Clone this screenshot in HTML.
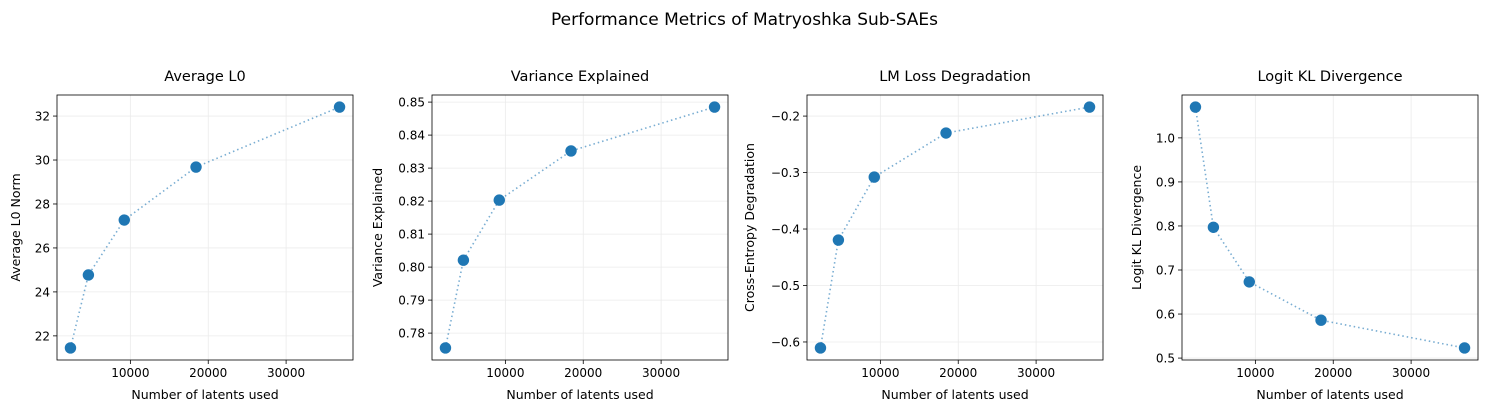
<!DOCTYPE html>
<html><head><meta charset="utf-8"><style>
body{margin:0;background:#fff;font-family:"Liberation Sans","DejaVu Sans",sans-serif}
svg text{font-family:"DejaVu Sans","Liberation Sans",sans-serif;fill:#000}
</style></head><body>
<svg id="c" width="1489" height="413">
<text x="744.5" y="25" text-anchor="middle" font-size="17">Performance Metrics of Matryoshka Sub-SAEs</text>
</svg>
<script>
const latents = [2304, 4608, 9216, 18432, 36864];
const l0Values = [21.45, 24.77, 27.27, 29.68, 32.41];
const varValues = [0.7755, 0.8021, 0.8203, 0.8352, 0.8485];
const lossValues = [-0.6106, -0.4195, -0.308, -0.230, -0.184];
const klValues = [1.070, 0.797, 0.673, 0.586, 0.523];
const xTicks = [10000, 20000, 30000];
const l0Ticks = [22, 24, 26, 28, 30, 32];
const varTicks = [0.78, 0.79, 0.80, 0.81, 0.82, 0.83, 0.84, 0.85];
const lossTicks = [-0.6, -0.5, -0.4, -0.3, -0.2];
const klTicks = [0.5, 0.6, 0.7, 0.8, 0.9, 1.0];
const titles = ["Average L0", "Variance Explained", "LM Loss Degradation", "Logit KL Divergence"];
const yLabels = ["Average L0 Norm", "Variance Explained", "Cross-Entropy Degradation", "Logit KL Divergence"];
const series = [l0Values, varValues, lossValues, klValues];
const ticks = [l0Ticks, varTicks, lossTicks, klTicks];
const dec = [0, 2, 1, 1];
const lefts = [57, 432, 807, 1182];
const yOff = [37, 50, 53, 41];
const W = 296, TOP = 95, BOT = 360;
const NS = "http://www.w3.org/2000/svg";
const svg = document.getElementById('c');
function mk(tag, attrs, parent) {
  const e = document.createElementNS(NS, tag);
  for (const k in attrs) e.setAttribute(k, attrs[k]);
  (parent || svg).appendChild(e);
  return e;
}
const xmin = Math.min(...latents), xmax = Math.max(...latents);
const xm = (xmax - xmin) * 0.05;
for (let p = 0; p < 4; p++) {
  const L = lefts[p];
  const g = mk('g', {});
  
  
  const xs = v => L + (v - (xmin - xm)) / ((xmax + xm) - (xmin - xm)) * W;
  const d = series[p];
  const ymn = Math.min(...d), ymx = Math.max(...d), m = (ymx - ymn) * 0.05;
  const ys = v => BOT - (v - (ymn - m)) / ((ymx + m) - (ymn - m)) * (BOT - TOP);
  xTicks.forEach(t => {
    const x = xs(t);
    mk('line', {x1: x, x2: x, y1: TOP, y2: BOT, stroke: '#ebebeb', 'stroke-width': 0.8}, g);
    mk('line', {x1: x, x2: x, y1: BOT, y2: BOT + 4, stroke: '#000', 'stroke-width': 0.8}, g);
    const tx = mk('text', {x: x, y: BOT + 17, 'text-anchor': 'middle', 'font-size': 12}, g);
    tx.textContent = t;
    
    
  });
  ticks[p].forEach(t => {
    const y = ys(t);
    mk('line', {x1: L, x2: L + W, y1: y, y2: y, stroke: '#ebebeb', 'stroke-width': 0.8}, g);
    mk('line', {x1: L - 4, x2: L, y1: y, y2: y, stroke: '#000', 'stroke-width': 0.8}, g);
    const tx = mk('text', {x: L - 7, y: y + 4.5, 'text-anchor': 'end', 'font-size': 12}, g);
    tx.textContent = t.toFixed(dec[p]).replace('-', '−');
    
    
  });
  const pts = latents.map((v, i) => xs(v) + ',' + ys(d[i])).join(' ');
  const pl = mk('polyline', {points: pts, fill: 'none', stroke: '#1f77b4', 'stroke-opacity': 0.6, 'stroke-width': 1.6, 'stroke-dasharray': '1.5,3'}, g);
  
  
  latents.forEach((v, i) => {
    const c = mk('circle', {cx: xs(v), cy: ys(d[i]), r: 5.7, fill: '#1f77b4'}, g);
    
    
  });
  mk('rect', {x: L, y: TOP, width: W, height: BOT - TOP, fill: 'none', stroke: '#000', 'stroke-width': 0.8}, g);
  const tt = mk('text', {x: L + W / 2, y: 81, 'text-anchor': 'middle', 'font-size': 14.5}, g);
  tt.textContent = titles[p];
  
  
  const xl = mk('text', {x: L + W / 2, y: 399, 'text-anchor': 'middle', 'font-size': 12.5}, g);
  xl.textContent = 'Number of latents used';
  
  
  const yx = L - yOff[p];
  const yl = mk('text', {x: 0, y: 0, 'text-anchor': 'middle', 'font-size': 12.5, transform: `translate(${yx},${(TOP + BOT) / 2}) rotate(-90)`}, g);
  yl.textContent = yLabels[p];
  
  
}
</script>
</body></html>
